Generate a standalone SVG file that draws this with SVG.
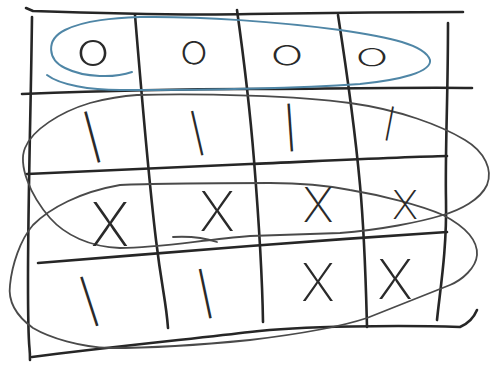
<svg xmlns="http://www.w3.org/2000/svg" width="500" height="370" viewBox="0 0 500 370">
<style>
.grid{fill:none;stroke:#262626;stroke-width:2.6;stroke-linecap:round;stroke-linejoin:round}
.loop{fill:none;stroke:#4a4a4a;stroke-width:1.8;stroke-linecap:round}
.blue{fill:none;stroke:#4f86a6;stroke-width:2;stroke-linecap:round}
.o{font-family:Inter,"Liberation Sans",sans-serif;font-weight:200;fill:#2a2a2a;text-anchor:middle}
.x{font-family:Inter,"Liberation Sans",sans-serif;font-weight:200;fill:#2a2a2a;text-anchor:middle}
.b{font-family:Inter,"Liberation Sans",sans-serif;font-weight:300;fill:#2a2a2a;text-anchor:middle}
</style>
<rect width="500" height="370" fill="#ffffff"/>
<g id="grid">
<path class="grid" d="M26,8 L33,11 C120,14 200,15 250,14 S400,12 463,12"/>
<path class="grid" d="M22,94 C100,91 200,89 250,89 S420,87 472,88"/>
<path class="grid" d="M27,174 C100,171 200,166 250,164 S400,157 447,156"/>
<path class="grid" d="M38,263 C100,258 200,250 250,246 S400,235 447,232"/>
<path class="grid" d="M32,357 C100,348 200,338 250,332 S400,325 460,327 Q472,322 477,310"/>
<path class="grid" d="M32,17 C31,100 28,200 28,280 S30,340 30,360"/>
<path class="grid" d="M135,15 C142,100 150,190 156,240 S166,300 168,328"/>
<path class="grid" d="M237,10 C244,60 250,110 254,160 S262,260 263,322"/>
<path class="grid" d="M338,15 C345,60 355,130 360,185 S366,290 367,327"/>
<path class="grid" d="M448,23 C448,100 445,150 446,200 S440,290 437,320"/>
</g>
<g id="loops">
<path class="blue" d="M132,72 C115,78 85,78 65,68 C48,60 45,40 65,30 C85,20 115,18 140,17 C200,16 280,22 340,30 C390,37 425,45 430,60 C432,72 400,80 360,84 C300,88 200,90 120,90 C90,90 60,85 47,75"/>
<path class="loop" d="M137,95 C200,93 300,96 350,103 C400,110 440,125 465,140 C485,152 493,170 487,185 C480,200 460,210 443,215 C420,222 380,230 340,233 L250,236 C200,240 160,248 120,248 C90,247 65,235 50,218 C30,195 18,165 25,148 C32,130 60,112 90,103 C105,99 120,96 137,95"/>
<path class="loop" d="M173,237 C190,236 205,238 217,242"/>
<path class="loop" d="M120,185 C160,183 220,183 270,183 C300,183 330,186 350,190 C380,195 420,205 443,215 C462,225 478,238 477,255 C476,268 462,280 450,285 C430,293 400,305 367,318 C340,327 300,334 250,340 C200,345 150,348 110,348 C80,347 50,338 33,328 C15,315 8,300 10,285 C12,265 20,240 33,225 C50,208 80,192 120,185"/>
</g>
<g id="marks">
<text class="o" transform="translate(93,52) scale(1.3,1.05)" x="0" y="12" font-size="44">o</text>
<text class="o" transform="translate(194,52) scale(1.15,1)" x="0" y="12" font-size="42">o</text>
<text class="o" transform="translate(287,55) scale(1.3,0.8)" x="0" y="12" font-size="44">o</text>
<text class="o" transform="translate(372,57) scale(1.3,0.75)" x="0" y="12" font-size="44">o</text>
<text class="b" transform="translate(92,136) rotate(-15)" x="0" y="17" font-size="44">|</text>
<text class="b" transform="translate(197,132) rotate(-13)" x="0" y="15" font-size="38">|</text>
<text class="b" transform="translate(290,126) rotate(-4)" x="0" y="16" font-size="40">|</text>
<text class="b" transform="translate(390,122) rotate(11)" x="0" y="12" font-size="29">|</text>
<text class="x" x="110" y="246" font-size="60">X</text>
<text class="x" x="217" y="231" font-size="55">X</text>
<text class="x" x="318" y="222" font-size="48">X</text>
<text class="x" x="405" y="219" font-size="40">X</text>
<text class="b" transform="translate(89,300) rotate(-18)" x="0" y="17" font-size="43">|</text>
<text class="b" transform="translate(205,292) rotate(-12)" x="0" y="17" font-size="42">|</text>
<text class="x" x="318" y="301" font-size="52">X</text>
<text class="x" x="395" y="299" font-size="55">X</text>
</g>
</svg>
